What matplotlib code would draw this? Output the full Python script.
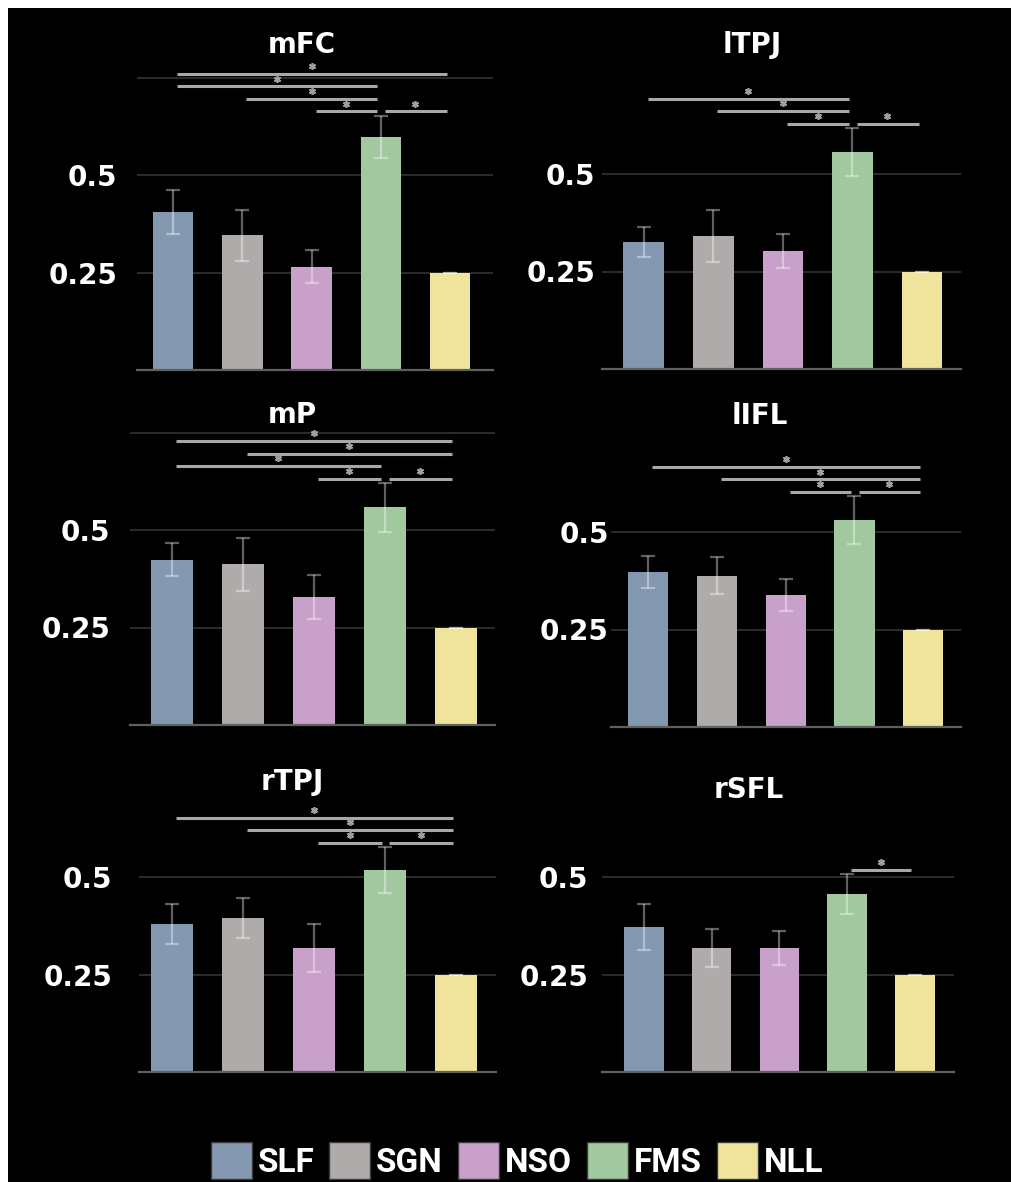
import numpy as np
import matplotlib.pyplot as plt
from matplotlib.patches import Patch, Rectangle

groups = ['SLF', 'SGN', 'NSO', 'FMS', 'NLL']
colors = ['#8497b0', '#afabab', '#c9a0c9', '#a2c8a0', '#f0e49c']

# mean and s.e.m. per region
mfc_mean = [0.405, 0.345, 0.265, 0.598, 0.25]
mfc_err = [0.057, 0.065, 0.042, 0.054, 0.0]
ltpj_mean = [0.326, 0.341, 0.302, 0.556, 0.25]
ltpj_err = [0.039, 0.067, 0.044, 0.062, 0.0]
mp_mean = [0.424, 0.412, 0.328, 0.558, 0.25]
mp_err = [0.043, 0.068, 0.056, 0.063, 0.0]
lifl_mean = [0.398, 0.388, 0.339, 0.531, 0.25]
lifl_err = [0.041, 0.048, 0.041, 0.061, 0.0]
rtpj_mean = [0.379, 0.395, 0.318, 0.518, 0.25]
rtpj_err = [0.051, 0.051, 0.061, 0.059, 0.0]
rsfl_mean = [0.372, 0.318, 0.318, 0.456, 0.25]
rsfl_err = [0.059, 0.049, 0.044, 0.052, 0.0]

# significant pairs: (group a, group b, bracket level)
mfc_sig = [(0, 4, 3), (0, 3, 2), (1, 3, 1), (2, 3, 0), (3, 4, 0)]
ltpj_sig = [(0, 3, 2), (1, 3, 1), (2, 3, 0), (3, 4, 0)]
mp_sig = [(0, 4, 3), (1, 4, 2), (0, 3, 1), (2, 3, 0), (3, 4, 0)]
lifl_sig = [(0, 4, 2), (1, 4, 1), (2, 3, 0), (3, 4, 0)]
rtpj_sig = [(0, 4, 2), (1, 4, 1), (2, 3, 0), (3, 4, 0)]
rsfl_sig = [(3, 4, 0)]

W, H = 1011, 1182
SCALE = 390.0  # pixels per unit on the y axis

# name, mean, err, sig, (left, right, baseline px), ytop, xlim, tick pad, title (x, y px)
panels = [
    ('mFC', mfc_mean, mfc_err, mfc_sig, (137, 493, 370), 0.77, (-0.52, 4.62), 14, (302, 53)),
    ('lTPJ', ltpj_mean, ltpj_err, ltpj_sig, (602, 961, 369), 0.72, (-0.60, 4.56), 5, (752, 53)),
    ('mP', mp_mean, mp_err, mp_sig, (130, 495, 725), 0.77, (-0.59, 4.55), 14, (292, 423)),
    ('lIFL', lifl_mean, lifl_err, lifl_sig, (611, 961, 727), 0.72, (-0.54, 4.55), 1.5, (760, 424)),
    ('rTPJ', rtpj_mean, rtpj_err, rtpj_sig, (139, 496, 1072), 0.72, (-0.46, 4.56), 19, (292, 790)),
    ('rSFL', rsfl_mean, rsfl_err, rsfl_sig, (602, 954, 1072), 0.72, (-0.62, 4.58), 10, (749, 798)),
]

fig = plt.figure(figsize=(W / 100, H / 100), dpi=100, facecolor='black')
# white strip along top and left edge
fig.patches.append(Rectangle((0, 1 - 8 / H), 1, 8 / H, transform=fig.transFigure,
                             facecolor='white', edgecolor='none'))
fig.patches.append(Rectangle((0, 0), 8 / W, 1, transform=fig.transFigure,
                             facecolor='white', edgecolor='none'))

x = np.arange(len(groups))
for name, mean, err, sig, (l, r, base), ytop, xlim, pad, (tx, ty) in panels:
    ax = fig.add_axes([l / W, 1 - base / H, (r - l) / W, ytop * SCALE / H])
    ax.set_facecolor('black')
    ax.bar(x, mean, width=0.585, color=colors, zorder=2)
    ax.errorbar(x, mean, yerr=err, fmt='none', ecolor='white', alpha=0.38,
                elinewidth=1.6, capsize=5, capthick=1.6, zorder=3)
    ax.set_yticks([0.25, 0.5, 0.75], ['0.25', '0.5', ''])
    ax.set_xticks([])
    ax.set_xlim(*xlim)
    ax.set_ylim(0, ytop)
    ax.tick_params(axis='y', length=0, pad=pad, labelsize=20, labelcolor='white')
    for lab in ax.get_yticklabels():
        lab.set_fontweight('bold')
    ax.yaxis.grid(True, color='#2a2a2a', lw=1.5, zorder=0)
    ax.set_axisbelow(True)
    for s in ['top', 'right', 'left']:
        ax.spines[s].set_visible(False)
    ax.spines['bottom'].set_color('#606060')
    ax.spines['bottom'].set_linewidth(1.6)

    # significance brackets stacked above the tallest error bar
    y0 = max(m + e for m, e in zip(mean, err)) + 0.011
    for a, b, lvl in sig:
        y = y0 + 0.032 * lvl
        ax.plot([a + 0.06, b - 0.05], [y, y], color='#a8a8a8', lw=2.2,
                solid_capstyle='butt', clip_on=False, zorder=4)
        ax.plot([(a + b) / 2], [y + 0.02], marker=(6, 2, 0), ms=5, mew=1.2,
                color='#a0a0a0', clip_on=False, zorder=4)

    fig.text(tx / W, 1 - ty / H, name, color='white', fontsize=20,
             fontweight='bold', ha='center', va='baseline')

handles = [Patch(facecolor=c, edgecolor='#3a3a3a', lw=1) for c in colors]
leg = fig.legend(handles, groups, loc='lower center', ncol=5,
                 bbox_to_anchor=(517 / W, 3 / H), frameon=False,
                 prop={'family': ['Roboto', 'DejaVu Sans'],
                       'weight': 'bold', 'size': 24},
                 handlelength=1.23, handleheight=1.32, handletextpad=0.18,
                 columnspacing=0.45, borderpad=0, borderaxespad=0)
for t in leg.get_texts():
    t.set_color('white')

plt.savefig('out.png', dpi=100, facecolor='black')
